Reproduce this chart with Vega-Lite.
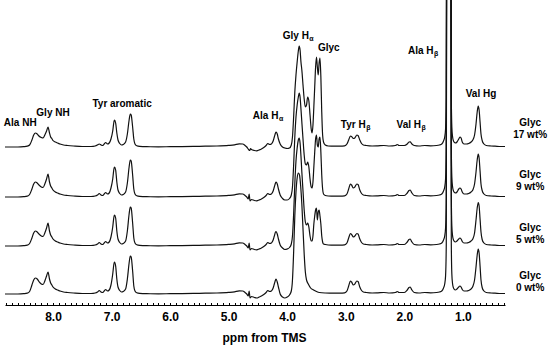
{
"$schema": "https://vega.github.io/schema/vega-lite/v6.json",
"width": 500, "height": 305,
"autosize": {"type": "none"},
"padding": {"left": 5, "top": 0, "right": 45, "bottom": 43},
"background": "white",
"config": {"view": {"stroke": null}},
"datasets": {
"trace": [
{"s":"17","p":8.82,"v":0},{"s":"17","p":8.6,"v":0},{"s":"17","p":8.5,"v":0.3},{"s":"17","p":8.44,"v":0.8},{"s":"17","p":8.4,"v":2},{"s":"17","p":8.36,"v":7},{"s":"17","p":8.33,"v":12},{"s":"17","p":8.3,"v":14},{"s":"17","p":8.27,"v":13},{"s":"17","p":8.24,"v":11},{"s":"17","p":8.2,"v":9.5},{"s":"17","p":8.17,"v":9},{"s":"17","p":8.14,"v":12},{"s":"17","p":8.11,"v":16},{"s":"17","p":8.085,"v":20},{"s":"17","p":8.06,"v":14},{"s":"17","p":8.04,"v":10},{"s":"17","p":8.02,"v":8.5},{"s":"17","p":8.0,"v":6.5},{"s":"17","p":7.96,"v":5},{"s":"17","p":7.92,"v":4},{"s":"17","p":7.88,"v":3},{"s":"17","p":7.82,"v":2},{"s":"17","p":7.75,"v":1.5},{"s":"17","p":7.65,"v":1},{"s":"17","p":7.5,"v":0.5},{"s":"17","p":7.35,"v":0.5},{"s":"17","p":7.28,"v":1},{"s":"17","p":7.24,"v":2},{"s":"17","p":7.21,"v":3},{"s":"17","p":7.18,"v":2},{"s":"17","p":7.15,"v":1.5},{"s":"17","p":7.12,"v":3.5},{"s":"17","p":7.1,"v":4.5},{"s":"17","p":7.07,"v":3},{"s":"17","p":7.04,"v":4},{"s":"17","p":7.01,"v":8},{"s":"17","p":6.98,"v":16},{"s":"17","p":6.96,"v":25},{"s":"17","p":6.95,"v":27},{"s":"17","p":6.93,"v":24},{"s":"17","p":6.91,"v":14},{"s":"17","p":6.89,"v":7},{"s":"17","p":6.86,"v":3.5},{"s":"17","p":6.83,"v":2},{"s":"17","p":6.8,"v":2.5},{"s":"17","p":6.76,"v":5},{"s":"17","p":6.73,"v":13},{"s":"17","p":6.7,"v":27},{"s":"17","p":6.68,"v":33},{"s":"17","p":6.665,"v":32},{"s":"17","p":6.64,"v":20},{"s":"17","p":6.62,"v":8},{"s":"17","p":6.6,"v":3},{"s":"17","p":6.57,"v":1.2},{"s":"17","p":6.52,"v":0.6},{"s":"17","p":6.4,"v":0.3},{"s":"17","p":6.2,"v":0.2},{"s":"17","p":6.0,"v":0.3},{"s":"17","p":5.8,"v":0.4},{"s":"17","p":5.6,"v":0.6},{"s":"17","p":5.4,"v":0.8},{"s":"17","p":5.2,"v":1},{"s":"17","p":5.0,"v":1.6},{"s":"17","p":4.9,"v":2.2},{"s":"17","p":4.82,"v":3.2},{"s":"17","p":4.76,"v":3},{"s":"17","p":4.72,"v":1.5},{"s":"17","p":4.69,"v":0},{"s":"17","p":4.66,"v":-2.5},{"s":"17","p":4.64,"v":-3.5},{"s":"17","p":4.625,"v":-1.5},{"s":"17","p":4.61,"v":-2.5},{"s":"17","p":4.56,"v":-3.5},{"s":"17","p":4.52,"v":-3.8},{"s":"17","p":4.48,"v":-3},{"s":"17","p":4.44,"v":-2},{"s":"17","p":4.4,"v":-0.5},{"s":"17","p":4.36,"v":1.5},{"s":"17","p":4.33,"v":3.5},{"s":"17","p":4.3,"v":2.5},{"s":"17","p":4.27,"v":3},{"s":"17","p":4.24,"v":6},{"s":"17","p":4.22,"v":10},{"s":"17","p":4.2,"v":14},{"s":"17","p":4.19,"v":15},{"s":"17","p":4.17,"v":13},{"s":"17","p":4.15,"v":8},{"s":"17","p":4.12,"v":3},{"s":"17","p":4.08,"v":0},{"s":"17","p":4.04,"v":-1},{"s":"17","p":4.0,"v":-1.5},{"s":"17","p":3.96,"v":-1},{"s":"17","p":3.93,"v":2},{"s":"17","p":3.91,"v":10},{"s":"17","p":3.89,"v":30},{"s":"17","p":3.87,"v":55},{"s":"17","p":3.85,"v":72},{"s":"17","p":3.83,"v":85},{"s":"17","p":3.81,"v":96},{"s":"17","p":3.795,"v":101},{"s":"17","p":3.78,"v":97},{"s":"17","p":3.765,"v":85},{"s":"17","p":3.75,"v":77},{"s":"17","p":3.73,"v":62},{"s":"17","p":3.71,"v":48},{"s":"17","p":3.69,"v":40},{"s":"17","p":3.67,"v":42},{"s":"17","p":3.65,"v":50},{"s":"17","p":3.63,"v":46},{"s":"17","p":3.61,"v":32},{"s":"17","p":3.59,"v":18},{"s":"17","p":3.575,"v":14},{"s":"17","p":3.56,"v":22},{"s":"17","p":3.545,"v":40},{"s":"17","p":3.53,"v":60},{"s":"17","p":3.515,"v":80},{"s":"17","p":3.5,"v":90},{"s":"17","p":3.485,"v":80},{"s":"17","p":3.47,"v":72},{"s":"17","p":3.455,"v":84},{"s":"17","p":3.44,"v":89},{"s":"17","p":3.425,"v":70},{"s":"17","p":3.41,"v":35},{"s":"17","p":3.395,"v":12},{"s":"17","p":3.38,"v":5},{"s":"17","p":3.35,"v":2},{"s":"17","p":3.3,"v":1},{"s":"17","p":3.2,"v":0.8},{"s":"17","p":3.1,"v":0.8},{"s":"17","p":3.02,"v":1.2},{"s":"17","p":2.98,"v":3},{"s":"17","p":2.95,"v":7},{"s":"17","p":2.92,"v":11},{"s":"17","p":2.9,"v":10.5},{"s":"17","p":2.87,"v":8.5},{"s":"17","p":2.845,"v":9},{"s":"17","p":2.81,"v":12},{"s":"17","p":2.79,"v":11.5},{"s":"17","p":2.76,"v":7},{"s":"17","p":2.73,"v":3.5},{"s":"17","p":2.7,"v":2},{"s":"17","p":2.65,"v":1.5},{"s":"17","p":2.55,"v":1},{"s":"17","p":2.45,"v":1.2},{"s":"17","p":2.35,"v":1.5},{"s":"17","p":2.25,"v":1},{"s":"17","p":2.15,"v":1.5},{"s":"17","p":2.12,"v":2.5},{"s":"17","p":2.09,"v":1.5},{"s":"17","p":2.0,"v":1.5},{"s":"17","p":1.95,"v":3},{"s":"17","p":1.92,"v":5},{"s":"17","p":1.9,"v":5.2},{"s":"17","p":1.87,"v":3},{"s":"17","p":1.83,"v":1.5},{"s":"17","p":1.75,"v":1},{"s":"17","p":1.65,"v":1.5},{"s":"17","p":1.55,"v":1.2},{"s":"17","p":1.45,"v":1.5},{"s":"17","p":1.4,"v":2},{"s":"17","p":1.36,"v":3},{"s":"17","p":1.33,"v":6},{"s":"17","p":1.31,"v":10},{"s":"17","p":1.295,"v":18},{"s":"17","p":1.283,"v":50},{"s":"17","p":1.272,"v":400},{"s":"17","p":1.255,"v":420},{"s":"17","p":1.24,"v":300},{"s":"17","p":1.225,"v":420},{"s":"17","p":1.208,"v":400},{"s":"17","p":1.197,"v":50},{"s":"17","p":1.188,"v":20},{"s":"17","p":1.175,"v":10},{"s":"17","p":1.16,"v":6},{"s":"17","p":1.13,"v":4},{"s":"17","p":1.1,"v":5},{"s":"17","p":1.07,"v":8},{"s":"17","p":1.05,"v":10},{"s":"17","p":1.03,"v":9},{"s":"17","p":1.01,"v":5},{"s":"17","p":0.98,"v":3},{"s":"17","p":0.94,"v":3},{"s":"17","p":0.9,"v":3.5},{"s":"17","p":0.86,"v":5},{"s":"17","p":0.83,"v":7},{"s":"17","p":0.8,"v":12},{"s":"17","p":0.775,"v":23},{"s":"17","p":0.755,"v":35},{"s":"17","p":0.737,"v":41},{"s":"17","p":0.722,"v":37},{"s":"17","p":0.706,"v":25},{"s":"17","p":0.69,"v":13},{"s":"17","p":0.67,"v":6.5},{"s":"17","p":0.64,"v":3},{"s":"17","p":0.6,"v":1.5},{"s":"17","p":0.52,"v":1},{"s":"17","p":0.45,"v":0.8},{"s":"17","p":0.35,"v":0.5},{"s":"17","p":0.28,"v":0.5},

{"s":"9","p":8.82,"v":0},{"s":"9","p":8.6,"v":0},{"s":"9","p":8.5,"v":0.3},{"s":"9","p":8.44,"v":0.8},{"s":"9","p":8.4,"v":2.5},{"s":"9","p":8.36,"v":8},{"s":"9","p":8.33,"v":13},{"s":"9","p":8.3,"v":15},{"s":"9","p":8.27,"v":14},{"s":"9","p":8.24,"v":12},{"s":"9","p":8.2,"v":10},{"s":"9","p":8.17,"v":9.5},{"s":"9","p":8.14,"v":13},{"s":"9","p":8.11,"v":18},{"s":"9","p":8.085,"v":23},{"s":"9","p":8.06,"v":15},{"s":"9","p":8.04,"v":11},{"s":"9","p":8.02,"v":9},{"s":"9","p":8.0,"v":7},{"s":"9","p":7.96,"v":5},{"s":"9","p":7.92,"v":4},{"s":"9","p":7.88,"v":3},{"s":"9","p":7.82,"v":2},{"s":"9","p":7.75,"v":1.5},{"s":"9","p":7.65,"v":1},{"s":"9","p":7.5,"v":0.5},{"s":"9","p":7.35,"v":0.5},{"s":"9","p":7.28,"v":1},{"s":"9","p":7.24,"v":2},{"s":"9","p":7.21,"v":3.5},{"s":"9","p":7.18,"v":2},{"s":"9","p":7.15,"v":1.5},{"s":"9","p":7.12,"v":3.5},{"s":"9","p":7.1,"v":4.5},{"s":"9","p":7.07,"v":3},{"s":"9","p":7.04,"v":4},{"s":"9","p":7.01,"v":9},{"s":"9","p":6.98,"v":18},{"s":"9","p":6.96,"v":28},{"s":"9","p":6.95,"v":30},{"s":"9","p":6.93,"v":27},{"s":"9","p":6.91,"v":15},{"s":"9","p":6.89,"v":7},{"s":"9","p":6.86,"v":3.5},{"s":"9","p":6.83,"v":2},{"s":"9","p":6.8,"v":2.5},{"s":"9","p":6.76,"v":5},{"s":"9","p":6.73,"v":14},{"s":"9","p":6.7,"v":30},{"s":"9","p":6.68,"v":37},{"s":"9","p":6.665,"v":36},{"s":"9","p":6.64,"v":22},{"s":"9","p":6.62,"v":8},{"s":"9","p":6.6,"v":3},{"s":"9","p":6.57,"v":1.2},{"s":"9","p":6.52,"v":0.6},{"s":"9","p":6.4,"v":0.3},{"s":"9","p":6.2,"v":0.2},{"s":"9","p":6.0,"v":0.3},{"s":"9","p":5.8,"v":0.4},{"s":"9","p":5.6,"v":0.6},{"s":"9","p":5.4,"v":0.8},{"s":"9","p":5.2,"v":1},{"s":"9","p":5.0,"v":1.6},{"s":"9","p":4.9,"v":2.2},{"s":"9","p":4.82,"v":3.2},{"s":"9","p":4.76,"v":3},{"s":"9","p":4.72,"v":1.5},{"s":"9","p":4.69,"v":0},{"s":"9","p":4.665,"v":-2},{"s":"9","p":4.65,"v":3},{"s":"9","p":4.635,"v":-4},{"s":"9","p":4.61,"v":-2.5},{"s":"9","p":4.56,"v":-3.5},{"s":"9","p":4.52,"v":-3.8},{"s":"9","p":4.48,"v":-3},{"s":"9","p":4.44,"v":-2},{"s":"9","p":4.4,"v":-0.5},{"s":"9","p":4.36,"v":1.5},{"s":"9","p":4.33,"v":3.5},{"s":"9","p":4.3,"v":2.5},{"s":"9","p":4.27,"v":3},{"s":"9","p":4.24,"v":6},{"s":"9","p":4.22,"v":10},{"s":"9","p":4.2,"v":14},{"s":"9","p":4.19,"v":15},{"s":"9","p":4.17,"v":13},{"s":"9","p":4.15,"v":8},{"s":"9","p":4.12,"v":2},{"s":"9","p":4.08,"v":-1.5},{"s":"9","p":4.04,"v":-3},{"s":"9","p":4.0,"v":-3},{"s":"9","p":3.96,"v":-1.5},{"s":"9","p":3.93,"v":2},{"s":"9","p":3.91,"v":10},{"s":"9","p":3.89,"v":32},{"s":"9","p":3.87,"v":60},{"s":"9","p":3.85,"v":80},{"s":"9","p":3.83,"v":92},{"s":"9","p":3.81,"v":100},{"s":"9","p":3.795,"v":104},{"s":"9","p":3.78,"v":100},{"s":"9","p":3.765,"v":88},{"s":"9","p":3.75,"v":75},{"s":"9","p":3.73,"v":58},{"s":"9","p":3.71,"v":42},{"s":"9","p":3.69,"v":33},{"s":"9","p":3.67,"v":32},{"s":"9","p":3.65,"v":35},{"s":"9","p":3.63,"v":30},{"s":"9","p":3.61,"v":18},{"s":"9","p":3.59,"v":10},{"s":"9","p":3.575,"v":9},{"s":"9","p":3.56,"v":15},{"s":"9","p":3.545,"v":30},{"s":"9","p":3.53,"v":45},{"s":"9","p":3.515,"v":58},{"s":"9","p":3.5,"v":62},{"s":"9","p":3.485,"v":52},{"s":"9","p":3.47,"v":50},{"s":"9","p":3.455,"v":58},{"s":"9","p":3.44,"v":60},{"s":"9","p":3.425,"v":45},{"s":"9","p":3.41,"v":22},{"s":"9","p":3.395,"v":8},{"s":"9","p":3.38,"v":3},{"s":"9","p":3.35,"v":1.5},{"s":"9","p":3.3,"v":1},{"s":"9","p":3.2,"v":0.8},{"s":"9","p":3.1,"v":0.8},{"s":"9","p":3.02,"v":1.2},{"s":"9","p":2.98,"v":3},{"s":"9","p":2.95,"v":8},{"s":"9","p":2.92,"v":13},{"s":"9","p":2.9,"v":12},{"s":"9","p":2.87,"v":9},{"s":"9","p":2.845,"v":10},{"s":"9","p":2.81,"v":13},{"s":"9","p":2.79,"v":12.5},{"s":"9","p":2.76,"v":7},{"s":"9","p":2.73,"v":3.5},{"s":"9","p":2.7,"v":2},{"s":"9","p":2.65,"v":1.5},{"s":"9","p":2.55,"v":1},{"s":"9","p":2.45,"v":1.2},{"s":"9","p":2.35,"v":1.5},{"s":"9","p":2.25,"v":1},{"s":"9","p":2.15,"v":1.5},{"s":"9","p":2.12,"v":2.5},{"s":"9","p":2.09,"v":1.5},{"s":"9","p":2.0,"v":1.5},{"s":"9","p":1.95,"v":4},{"s":"9","p":1.92,"v":6.5},{"s":"9","p":1.9,"v":7},{"s":"9","p":1.87,"v":4},{"s":"9","p":1.83,"v":1.5},{"s":"9","p":1.75,"v":1},{"s":"9","p":1.65,"v":1.5},{"s":"9","p":1.55,"v":1.2},{"s":"9","p":1.45,"v":1.5},{"s":"9","p":1.4,"v":2},{"s":"9","p":1.36,"v":3},{"s":"9","p":1.33,"v":6},{"s":"9","p":1.31,"v":10},{"s":"9","p":1.295,"v":18},{"s":"9","p":1.283,"v":50},{"s":"9","p":1.272,"v":450},{"s":"9","p":1.255,"v":470},{"s":"9","p":1.24,"v":350},{"s":"9","p":1.225,"v":470},{"s":"9","p":1.208,"v":450},{"s":"9","p":1.197,"v":50},{"s":"9","p":1.188,"v":20},{"s":"9","p":1.175,"v":10},{"s":"9","p":1.16,"v":6},{"s":"9","p":1.13,"v":4},{"s":"9","p":1.1,"v":5},{"s":"9","p":1.07,"v":8},{"s":"9","p":1.05,"v":9},{"s":"9","p":1.03,"v":8},{"s":"9","p":1.01,"v":5},{"s":"9","p":0.98,"v":3},{"s":"9","p":0.94,"v":3},{"s":"9","p":0.9,"v":3.5},{"s":"9","p":0.86,"v":5},{"s":"9","p":0.83,"v":7},{"s":"9","p":0.8,"v":13},{"s":"9","p":0.775,"v":25},{"s":"9","p":0.755,"v":37},{"s":"9","p":0.737,"v":43},{"s":"9","p":0.722,"v":39},{"s":"9","p":0.706,"v":26},{"s":"9","p":0.69,"v":13},{"s":"9","p":0.67,"v":6.5},{"s":"9","p":0.64,"v":3},{"s":"9","p":0.6,"v":1.5},{"s":"9","p":0.52,"v":1},{"s":"9","p":0.45,"v":0.8},{"s":"9","p":0.35,"v":0.5},{"s":"9","p":0.28,"v":0.5},

{"s":"5","p":8.82,"v":0},{"s":"5","p":8.6,"v":0},{"s":"5","p":8.5,"v":0.3},{"s":"5","p":8.44,"v":0.8},{"s":"5","p":8.4,"v":2.5},{"s":"5","p":8.36,"v":8},{"s":"5","p":8.33,"v":13},{"s":"5","p":8.3,"v":15},{"s":"5","p":8.27,"v":14},{"s":"5","p":8.24,"v":12},{"s":"5","p":8.2,"v":10},{"s":"5","p":8.17,"v":9.5},{"s":"5","p":8.14,"v":13},{"s":"5","p":8.11,"v":18},{"s":"5","p":8.085,"v":23},{"s":"5","p":8.06,"v":15},{"s":"5","p":8.04,"v":11},{"s":"5","p":8.02,"v":9},{"s":"5","p":8.0,"v":7},{"s":"5","p":7.96,"v":5},{"s":"5","p":7.92,"v":4},{"s":"5","p":7.88,"v":3},{"s":"5","p":7.82,"v":2},{"s":"5","p":7.75,"v":1.5},{"s":"5","p":7.65,"v":1},{"s":"5","p":7.5,"v":0.5},{"s":"5","p":7.35,"v":0.5},{"s":"5","p":7.28,"v":1},{"s":"5","p":7.24,"v":2},{"s":"5","p":7.21,"v":3.5},{"s":"5","p":7.18,"v":2},{"s":"5","p":7.15,"v":1.5},{"s":"5","p":7.12,"v":3.5},{"s":"5","p":7.1,"v":4.5},{"s":"5","p":7.07,"v":3},{"s":"5","p":7.04,"v":4},{"s":"5","p":7.01,"v":9},{"s":"5","p":6.98,"v":19},{"s":"5","p":6.96,"v":29},{"s":"5","p":6.95,"v":31},{"s":"5","p":6.93,"v":28},{"s":"5","p":6.91,"v":15},{"s":"5","p":6.89,"v":7},{"s":"5","p":6.86,"v":3.5},{"s":"5","p":6.83,"v":2},{"s":"5","p":6.8,"v":2.5},{"s":"5","p":6.76,"v":5},{"s":"5","p":6.73,"v":15},{"s":"5","p":6.7,"v":32},{"s":"5","p":6.68,"v":39},{"s":"5","p":6.665,"v":38},{"s":"5","p":6.64,"v":23},{"s":"5","p":6.62,"v":8},{"s":"5","p":6.6,"v":3},{"s":"5","p":6.57,"v":1.2},{"s":"5","p":6.52,"v":0.6},{"s":"5","p":6.4,"v":0.3},{"s":"5","p":6.2,"v":0.2},{"s":"5","p":6.0,"v":0.3},{"s":"5","p":5.8,"v":0.4},{"s":"5","p":5.6,"v":0.6},{"s":"5","p":5.4,"v":0.8},{"s":"5","p":5.2,"v":1},{"s":"5","p":5.0,"v":1.6},{"s":"5","p":4.9,"v":2.2},{"s":"5","p":4.82,"v":3.2},{"s":"5","p":4.76,"v":3},{"s":"5","p":4.72,"v":1.5},{"s":"5","p":4.69,"v":0},{"s":"5","p":4.665,"v":-2},{"s":"5","p":4.65,"v":3},{"s":"5","p":4.635,"v":-4},{"s":"5","p":4.61,"v":-2.5},{"s":"5","p":4.56,"v":-3.5},{"s":"5","p":4.52,"v":-3.8},{"s":"5","p":4.48,"v":-3},{"s":"5","p":4.44,"v":-2},{"s":"5","p":4.4,"v":-0.5},{"s":"5","p":4.36,"v":1.5},{"s":"5","p":4.33,"v":3.5},{"s":"5","p":4.3,"v":2.5},{"s":"5","p":4.27,"v":3},{"s":"5","p":4.24,"v":6},{"s":"5","p":4.22,"v":10},{"s":"5","p":4.2,"v":14},{"s":"5","p":4.19,"v":14.5},{"s":"5","p":4.17,"v":12},{"s":"5","p":4.15,"v":7},{"s":"5","p":4.12,"v":1},{"s":"5","p":4.08,"v":-2},{"s":"5","p":4.04,"v":-3.5},{"s":"5","p":4.0,"v":-3},{"s":"5","p":3.96,"v":-1.5},{"s":"5","p":3.93,"v":2},{"s":"5","p":3.91,"v":10},{"s":"5","p":3.89,"v":32},{"s":"5","p":3.87,"v":62},{"s":"5","p":3.85,"v":85},{"s":"5","p":3.83,"v":98},{"s":"5","p":3.81,"v":106},{"s":"5","p":3.795,"v":108},{"s":"5","p":3.78,"v":103},{"s":"5","p":3.765,"v":90},{"s":"5","p":3.75,"v":74},{"s":"5","p":3.73,"v":55},{"s":"5","p":3.71,"v":36},{"s":"5","p":3.69,"v":24},{"s":"5","p":3.67,"v":21},{"s":"5","p":3.65,"v":23},{"s":"5","p":3.63,"v":19},{"s":"5","p":3.61,"v":10},{"s":"5","p":3.59,"v":5},{"s":"5","p":3.575,"v":5},{"s":"5","p":3.56,"v":10},{"s":"5","p":3.545,"v":22},{"s":"5","p":3.53,"v":30},{"s":"5","p":3.515,"v":36},{"s":"5","p":3.5,"v":38},{"s":"5","p":3.485,"v":26},{"s":"5","p":3.47,"v":34},{"s":"5","p":3.455,"v":36},{"s":"5","p":3.44,"v":30},{"s":"5","p":3.425,"v":22},{"s":"5","p":3.41,"v":10},{"s":"5","p":3.395,"v":4},{"s":"5","p":3.38,"v":2},{"s":"5","p":3.35,"v":1.5},{"s":"5","p":3.3,"v":1},{"s":"5","p":3.2,"v":0.8},{"s":"5","p":3.1,"v":0.8},{"s":"5","p":3.02,"v":1.2},{"s":"5","p":2.98,"v":3},{"s":"5","p":2.95,"v":8},{"s":"5","p":2.92,"v":12.5},{"s":"5","p":2.9,"v":11.5},{"s":"5","p":2.87,"v":9},{"s":"5","p":2.845,"v":10},{"s":"5","p":2.81,"v":12.5},{"s":"5","p":2.79,"v":12},{"s":"5","p":2.76,"v":7},{"s":"5","p":2.73,"v":3.5},{"s":"5","p":2.7,"v":2},{"s":"5","p":2.65,"v":1.5},{"s":"5","p":2.55,"v":1},{"s":"5","p":2.45,"v":1.2},{"s":"5","p":2.35,"v":1.5},{"s":"5","p":2.25,"v":1},{"s":"5","p":2.15,"v":1.5},{"s":"5","p":2.12,"v":2.5},{"s":"5","p":2.09,"v":1.5},{"s":"5","p":2.0,"v":1.5},{"s":"5","p":1.95,"v":4},{"s":"5","p":1.92,"v":6.5},{"s":"5","p":1.9,"v":7},{"s":"5","p":1.87,"v":4},{"s":"5","p":1.83,"v":1.5},{"s":"5","p":1.75,"v":1},{"s":"5","p":1.65,"v":1.5},{"s":"5","p":1.55,"v":1.2},{"s":"5","p":1.45,"v":1.5},{"s":"5","p":1.4,"v":2},{"s":"5","p":1.36,"v":3},{"s":"5","p":1.33,"v":6},{"s":"5","p":1.31,"v":10},{"s":"5","p":1.295,"v":18},{"s":"5","p":1.283,"v":50},{"s":"5","p":1.272,"v":500},{"s":"5","p":1.255,"v":520},{"s":"5","p":1.24,"v":400},{"s":"5","p":1.225,"v":520},{"s":"5","p":1.208,"v":500},{"s":"5","p":1.197,"v":50},{"s":"5","p":1.188,"v":20},{"s":"5","p":1.175,"v":10},{"s":"5","p":1.16,"v":6},{"s":"5","p":1.13,"v":4},{"s":"5","p":1.1,"v":5},{"s":"5","p":1.07,"v":7},{"s":"5","p":1.05,"v":8},{"s":"5","p":1.03,"v":7},{"s":"5","p":1.01,"v":4.5},{"s":"5","p":0.98,"v":3},{"s":"5","p":0.94,"v":3},{"s":"5","p":0.9,"v":3.5},{"s":"5","p":0.86,"v":5},{"s":"5","p":0.83,"v":7},{"s":"5","p":0.8,"v":13},{"s":"5","p":0.775,"v":26},{"s":"5","p":0.755,"v":38},{"s":"5","p":0.737,"v":43.5},{"s":"5","p":0.722,"v":40},{"s":"5","p":0.706,"v":27},{"s":"5","p":0.69,"v":14},{"s":"5","p":0.67,"v":6.5},{"s":"5","p":0.64,"v":3},{"s":"5","p":0.6,"v":1.5},{"s":"5","p":0.52,"v":1},{"s":"5","p":0.45,"v":0.8},{"s":"5","p":0.35,"v":0.5},{"s":"5","p":0.28,"v":0.5},

{"s":"0","p":8.82,"v":0},{"s":"0","p":8.6,"v":0},{"s":"0","p":8.5,"v":0.3},{"s":"0","p":8.44,"v":0.8},{"s":"0","p":8.4,"v":2.5},{"s":"0","p":8.36,"v":9},{"s":"0","p":8.33,"v":14},{"s":"0","p":8.3,"v":16},{"s":"0","p":8.27,"v":15},{"s":"0","p":8.24,"v":12.5},{"s":"0","p":8.2,"v":10},{"s":"0","p":8.17,"v":9.5},{"s":"0","p":8.14,"v":13},{"s":"0","p":8.11,"v":18},{"s":"0","p":8.085,"v":22},{"s":"0","p":8.06,"v":15},{"s":"0","p":8.04,"v":11},{"s":"0","p":8.02,"v":9},{"s":"0","p":8.0,"v":7},{"s":"0","p":7.96,"v":5},{"s":"0","p":7.92,"v":4},{"s":"0","p":7.88,"v":3},{"s":"0","p":7.82,"v":2},{"s":"0","p":7.75,"v":1.5},{"s":"0","p":7.65,"v":1},{"s":"0","p":7.5,"v":0.5},{"s":"0","p":7.35,"v":0.5},{"s":"0","p":7.28,"v":1},{"s":"0","p":7.24,"v":2},{"s":"0","p":7.21,"v":3.5},{"s":"0","p":7.18,"v":2},{"s":"0","p":7.15,"v":1.5},{"s":"0","p":7.12,"v":3.5},{"s":"0","p":7.1,"v":4.5},{"s":"0","p":7.07,"v":3},{"s":"0","p":7.04,"v":4},{"s":"0","p":7.01,"v":9},{"s":"0","p":6.98,"v":20},{"s":"0","p":6.96,"v":30},{"s":"0","p":6.95,"v":32},{"s":"0","p":6.93,"v":28},{"s":"0","p":6.91,"v":15},{"s":"0","p":6.89,"v":7},{"s":"0","p":6.86,"v":3.5},{"s":"0","p":6.83,"v":2},{"s":"0","p":6.8,"v":2.5},{"s":"0","p":6.76,"v":5},{"s":"0","p":6.73,"v":15},{"s":"0","p":6.7,"v":31},{"s":"0","p":6.68,"v":38},{"s":"0","p":6.665,"v":37},{"s":"0","p":6.64,"v":23},{"s":"0","p":6.62,"v":8},{"s":"0","p":6.6,"v":3},{"s":"0","p":6.57,"v":1.2},{"s":"0","p":6.52,"v":0.6},{"s":"0","p":6.4,"v":0.3},{"s":"0","p":6.2,"v":0.2},{"s":"0","p":6.0,"v":0.3},{"s":"0","p":5.8,"v":0.4},{"s":"0","p":5.6,"v":0.6},{"s":"0","p":5.4,"v":0.8},{"s":"0","p":5.2,"v":1},{"s":"0","p":5.0,"v":1.6},{"s":"0","p":4.9,"v":2.2},{"s":"0","p":4.82,"v":3.2},{"s":"0","p":4.76,"v":3},{"s":"0","p":4.72,"v":1.5},{"s":"0","p":4.69,"v":0},{"s":"0","p":4.665,"v":-2},{"s":"0","p":4.65,"v":3},{"s":"0","p":4.635,"v":-4},{"s":"0","p":4.61,"v":-2.5},{"s":"0","p":4.56,"v":-3.5},{"s":"0","p":4.52,"v":-4},{"s":"0","p":4.48,"v":-3},{"s":"0","p":4.44,"v":-2},{"s":"0","p":4.4,"v":-0.5},{"s":"0","p":4.36,"v":1.5},{"s":"0","p":4.33,"v":3.5},{"s":"0","p":4.3,"v":2.5},{"s":"0","p":4.27,"v":3},{"s":"0","p":4.24,"v":6},{"s":"0","p":4.22,"v":10},{"s":"0","p":4.2,"v":14},{"s":"0","p":4.19,"v":15},{"s":"0","p":4.17,"v":12},{"s":"0","p":4.15,"v":7},{"s":"0","p":4.12,"v":0},{"s":"0","p":4.08,"v":-3},{"s":"0","p":4.04,"v":-4},{"s":"0","p":4.0,"v":-3},{"s":"0","p":3.96,"v":-1},{"s":"0","p":3.93,"v":3},{"s":"0","p":3.91,"v":14},{"s":"0","p":3.89,"v":42},{"s":"0","p":3.87,"v":78},{"s":"0","p":3.85,"v":102},{"s":"0","p":3.83,"v":116},{"s":"0","p":3.81,"v":121},{"s":"0","p":3.79,"v":119},{"s":"0","p":3.77,"v":108},{"s":"0","p":3.75,"v":90},{"s":"0","p":3.73,"v":65},{"s":"0","p":3.71,"v":40},{"s":"0","p":3.69,"v":22},{"s":"0","p":3.67,"v":14},{"s":"0","p":3.64,"v":10},{"s":"0","p":3.6,"v":6},{"s":"0","p":3.55,"v":4},{"s":"0","p":3.5,"v":2.5},{"s":"0","p":3.45,"v":1.5},{"s":"0","p":3.35,"v":1},{"s":"0","p":3.2,"v":0.8},{"s":"0","p":3.1,"v":0.8},{"s":"0","p":3.02,"v":1.2},{"s":"0","p":2.98,"v":3},{"s":"0","p":2.95,"v":8},{"s":"0","p":2.92,"v":13},{"s":"0","p":2.9,"v":12},{"s":"0","p":2.87,"v":9},{"s":"0","p":2.845,"v":10},{"s":"0","p":2.81,"v":13},{"s":"0","p":2.79,"v":12.5},{"s":"0","p":2.76,"v":7},{"s":"0","p":2.73,"v":3.5},{"s":"0","p":2.7,"v":2},{"s":"0","p":2.65,"v":1.5},{"s":"0","p":2.55,"v":1},{"s":"0","p":2.45,"v":1.2},{"s":"0","p":2.35,"v":1.5},{"s":"0","p":2.25,"v":1},{"s":"0","p":2.15,"v":1.5},{"s":"0","p":2.12,"v":2.5},{"s":"0","p":2.09,"v":1.5},{"s":"0","p":2.0,"v":1.5},{"s":"0","p":1.95,"v":4},{"s":"0","p":1.92,"v":6.5},{"s":"0","p":1.9,"v":7},{"s":"0","p":1.87,"v":4},{"s":"0","p":1.83,"v":1.5},{"s":"0","p":1.75,"v":1},{"s":"0","p":1.65,"v":1.5},{"s":"0","p":1.55,"v":1.2},{"s":"0","p":1.45,"v":1.5},{"s":"0","p":1.4,"v":2},{"s":"0","p":1.36,"v":3},{"s":"0","p":1.33,"v":6},{"s":"0","p":1.31,"v":10},{"s":"0","p":1.295,"v":18},{"s":"0","p":1.283,"v":50},{"s":"0","p":1.272,"v":550},{"s":"0","p":1.255,"v":570},{"s":"0","p":1.24,"v":450},{"s":"0","p":1.225,"v":570},{"s":"0","p":1.208,"v":550},{"s":"0","p":1.197,"v":50},{"s":"0","p":1.188,"v":20},{"s":"0","p":1.175,"v":10},{"s":"0","p":1.16,"v":6},{"s":"0","p":1.13,"v":4},{"s":"0","p":1.1,"v":5},{"s":"0","p":1.07,"v":7},{"s":"0","p":1.05,"v":8},{"s":"0","p":1.03,"v":7},{"s":"0","p":1.01,"v":4.5},{"s":"0","p":0.98,"v":3},{"s":"0","p":0.94,"v":3},{"s":"0","p":0.9,"v":3.5},{"s":"0","p":0.86,"v":5},{"s":"0","p":0.83,"v":7.5},{"s":"0","p":0.8,"v":14},{"s":"0","p":0.775,"v":27},{"s":"0","p":0.755,"v":39},{"s":"0","p":0.737,"v":45},{"s":"0","p":0.722,"v":41},{"s":"0","p":0.706,"v":28},{"s":"0","p":0.69,"v":14},{"s":"0","p":0.67,"v":6.5},{"s":"0","p":0.64,"v":3},{"s":"0","p":0.6,"v":1.5},{"s":"0","p":0.52,"v":1},{"s":"0","p":0.45,"v":0.8},{"s":"0","p":0.35,"v":0.5},{"s":"0","p":0.28,"v":0.5}
],
"labels": [
{"t":"Ala NH","p":8.56,"v":24},{"t":"Gly NH","p":8.0,"v":34},{"t":"Tyr aromatic","p":6.82,"v":43},{"t":"Glyc","p":3.29,"v":99},{"t":"Val Hg","p":0.69,"v":53}
],
"hlabels": [
{"t":"Ala H","p":4.15,"v":31},{"t":"Gly H","p":3.63,"v":111},{"t":"Tyr H","p":2.66,"v":22},{"t":"Val H","p":1.715,"v":22},{"t":"Ala H","p":1.5,"v":96}
],
"subs": [
{"t":"α","p":4.15,"v":31},{"t":"α","p":3.63,"v":111},{"t":"β","p":2.66,"v":22},{"t":"β","p":1.715,"v":22},{"t":"β","p":1.5,"v":96}
],
"side": [
{"s":"17","t":"Glyc|17 wt%","p":-0.15,"v":24},{"s":"9","t":"Glyc|9 wt%","p":-0.15,"v":22},{"s":"5","t":"Glyc|5 wt%","p":-0.15,"v":18.5},{"s":"0","t":"Glyc|0 wt%","p":-0.15,"v":18.5}
]
},
"encoding": {
"x": {"field": "p", "type": "quantitative",
 "scale": {"domain": [0.28, 8.82], "reverse": true, "nice": false, "zero": false},
 "axis": {"values": [0.3,0.4,0.5,0.6,0.7,0.8,0.9,1.0,1.1,1.2,1.3,1.4,1.5,1.6,1.7,1.8,1.9,2.0,2.1,2.2,2.3,2.4,2.5,2.6,2.7,2.8,2.9,3.0,3.1,3.2,3.3,3.4,3.5,3.6,3.7,3.8,3.9,4.0,4.1,4.2,4.3,4.4,4.5,4.6,4.7,4.8,4.9,5.0,5.1,5.2,5.3,5.4,5.5,5.6,5.7,5.8,5.9,6.0,6.1,6.2,6.3,6.4,6.5,6.6,6.7,6.8,6.9,7.0,7.1,7.2,7.3,7.4,7.5,7.6,7.7,7.8,7.9,8.0,8.1,8.2,8.3,8.4,8.5,8.6,8.7,8.8],
  "labelExpr": "abs(datum.value - round(datum.value)) < 0.001 ? format(datum.value, '.1f') : ''",
  "labelOverlap": false, "labelFlush": false, "grid": false,
  "tickSize": -2.5, "tickColor": "#000", "tickWidth": 1,
  "domainColor": "#000", "domainWidth": 1,
  "labelFont": "Liberation Sans", "labelFontWeight": "bold", "labelFontSize": 12, "labelColor": "#000", "labelPadding": 9,
  "title": "ppm from TMS", "titleFont": "Liberation Sans", "titleFontWeight": "bold", "titleFontSize": 12, "titleColor": "#000", "titlePadding": 10, "titleX": 259}}
},
"layer": [
{"encoding": {"y": {"field": "v", "type": "quantitative", "scale": {"domain": [-158, 147], "nice": false, "zero": false}, "axis": null}},
 "layer": [
  {"data": {"name": "trace"}, "transform": [{"filter": "datum.s === '17'"}], "mark": {"type": "line", "clip": true, "color": "#111", "strokeWidth": 1.2, "interpolate": "monotone"}},
  {"data": {"name": "side"}, "transform": [{"filter": "datum.s === '17'"}], "mark": {"type": "text", "font": "Liberation Sans", "fontWeight": "bold", "fontSize": 10, "color": "#000", "align": "center", "baseline": "middle", "lineBreak": "|", "lineHeight": 12}, "encoding": {"text": {"field": "t"}}},
  {"data": {"name": "labels"}, "mark": {"type": "text", "font": "Liberation Sans", "fontWeight": "bold", "fontSize": 10, "color": "#000", "align": "center", "baseline": "middle"}, "encoding": {"text": {"field": "t"}}},
  {"data": {"name": "hlabels"}, "mark": {"type": "text", "font": "Liberation Sans", "fontWeight": "bold", "fontSize": 10, "color": "#000", "align": "right", "baseline": "middle"}, "encoding": {"text": {"field": "t"}}},
  {"data": {"name": "subs"}, "mark": {"type": "text", "font": "Liberation Sans", "fontWeight": "bold", "fontSize": 7, "color": "#000", "align": "left", "baseline": "middle", "dx": 0.5, "dy": 3}, "encoding": {"text": {"field": "t"}}}
 ]},
{"encoding": {"y": {"field": "v", "type": "quantitative", "scale": {"domain": [-108, 197], "nice": false, "zero": false}, "axis": null}},
 "layer": [
  {"data": {"name": "trace"}, "transform": [{"filter": "datum.s === '9'"}], "mark": {"type": "line", "clip": true, "color": "#111", "strokeWidth": 1.2, "interpolate": "monotone"}},
  {"data": {"name": "side"}, "transform": [{"filter": "datum.s === '9'"}], "mark": {"type": "text", "font": "Liberation Sans", "fontWeight": "bold", "fontSize": 10, "color": "#000", "align": "center", "baseline": "middle", "lineBreak": "|", "lineHeight": 12}, "encoding": {"text": {"field": "t"}}}
 ]},
{"encoding": {"y": {"field": "v", "type": "quantitative", "scale": {"domain": [-59, 246], "nice": false, "zero": false}, "axis": null}},
 "layer": [
  {"data": {"name": "trace"}, "transform": [{"filter": "datum.s === '5'"}], "mark": {"type": "line", "clip": true, "color": "#111", "strokeWidth": 1.2, "interpolate": "monotone"}},
  {"data": {"name": "side"}, "transform": [{"filter": "datum.s === '5'"}], "mark": {"type": "text", "font": "Liberation Sans", "fontWeight": "bold", "fontSize": 10, "color": "#000", "align": "center", "baseline": "middle", "lineBreak": "|", "lineHeight": 12}, "encoding": {"text": {"field": "t"}}}
 ]},
{"encoding": {"y": {"field": "v", "type": "quantitative", "scale": {"domain": [-11, 294], "nice": false, "zero": false}, "axis": null}},
 "layer": [
  {"data": {"name": "trace"}, "transform": [{"filter": "datum.s === '0'"}], "mark": {"type": "line", "clip": true, "color": "#111", "strokeWidth": 1.2, "interpolate": "monotone"}},
  {"data": {"name": "side"}, "transform": [{"filter": "datum.s === '0'"}], "mark": {"type": "text", "font": "Liberation Sans", "fontWeight": "bold", "fontSize": 10, "color": "#000", "align": "center", "baseline": "middle", "lineBreak": "|", "lineHeight": 12}, "encoding": {"text": {"field": "t"}}}
 ]}
],
"resolve": {"scale": {"y": "independent"}}
}
